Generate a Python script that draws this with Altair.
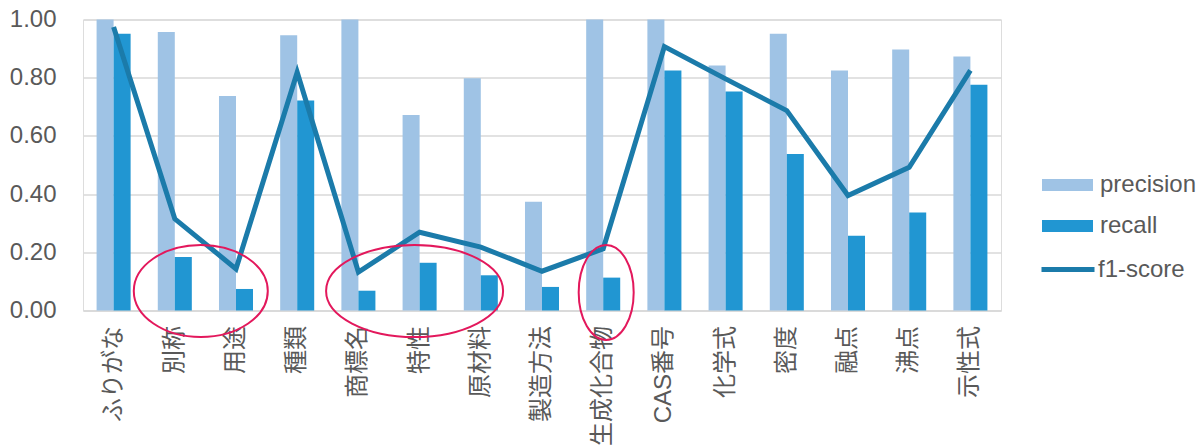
import altair as alt
import pandas as pd

FONT = "Liberation Sans, Arial, Noto Sans CJK JP"

categories = ["ふりがな", "別称", "用途", "種類", "商標名", "特性", "原材料", "製造方法",
              "生成化合物", "CAS番号", "化学式", "密度", "融点", "沸点", "示性式"]
precision = [1.00, 0.957, 0.737, 0.946, 1.00, 0.672, 0.798, 0.374, 1.00, 1.00,
             0.842, 0.951, 0.825, 0.897, 0.873]
recall = [0.951, 0.184, 0.074, 0.722, 0.068, 0.164, 0.121, 0.081, 0.113, 0.825,
          0.753, 0.538, 0.257, 0.337, 0.776]
f1_score = [0.974, 0.315, 0.143, 0.819, 0.132, 0.269, 0.218, 0.135, 0.212, 0.907,
            0.796, 0.687, 0.395, 0.492, 0.825]
metrics = ["precision", "recall"]
y_ticks = [0.0, 0.2, 0.4, 0.6, 0.8, 1.0]

# annotation ellipses (anchor category and level)
ann_cats = ["別称", "特性", "生成化合物"]
ann_y = [0.067, 0.067, 0.062]

metric_colors = ["#9FC3E5", "#2196D2"]
line_color = "#1B7BAA"
red = "#E3185C"
grey = "#595959"
grid = "#D9D9D9"

bars_df = pd.DataFrame({
    "category": categories * 2,
    "metric": ["precision"] * len(categories) + ["recall"] * len(categories),
    "value": precision + recall,
})
line_df = pd.DataFrame({"category": categories, "series": ["f1-score"] * len(categories),
                        "value": f1_score})
ann_df = pd.DataFrame({"category": ann_cats, "value": ann_y})

x_scale = alt.Scale(domain=categories, paddingInner=0.444, paddingOuter=0.222)
x_axis = alt.Axis(title=None, labelAngle=270, labelFontSize=24, labelFont=FONT,
                  labelColor=grey, ticks=False, labelPadding=15, domainColor=grid,
                  domainWidth=1.5, grid=False)
y_scale = alt.Scale(domain=[0, 1], nice=False)
y_axis = alt.Axis(title=None, values=y_ticks, format=".2f", labelFontSize=24, labelFont=FONT,
                  labelColor=grey, ticks=False, labelPadding=27, domain=False,
                  gridColor=grid, gridWidth=1.5)


def xenc():
    return alt.X("category:N", scale=x_scale, axis=x_axis, sort=categories)


def yenc():
    return alt.Y("value:Q", scale=y_scale, axis=y_axis)


bars = alt.Chart(bars_df).mark_bar().encode(
    x=xenc(),
    xOffset=alt.XOffset("metric:N", sort=metrics, scale=alt.Scale(paddingInner=0, paddingOuter=0)),
    y=yenc(),
    color=alt.Color("metric:N", scale=alt.Scale(domain=metrics, range=metric_colors),
                    legend=alt.Legend(title=None, orient="none", legendX=959, legendY=140,
                                      symbolType="M-1,-0.24H1V0.24H-1Z", symbolSize=2601,
                                      symbolStrokeWidth=0, labelFontSize=24, labelFont=FONT,
                                      labelColor=grey, rowPadding=3, labelOffset=7, padding=0)),
)

line = alt.Chart(line_df).mark_line(strokeWidth=5).encode(
    x=xenc(),
    y=yenc(),
    stroke=alt.Stroke("series:N", scale=alt.Scale(domain=["f1-score"], range=[line_color]),
                      legend=alt.Legend(title=None, orient="none", legendX=956, legendY=221,
                                        symbolType="stroke", symbolSize=2809,
                                        symbolStrokeWidth=5, labelFontSize=24, labelFont=FONT,
                                        labelColor=grey, labelOffset=1, padding=0)),
)

ell_paths = [
    "M-1,0A1,0.687,0,1,0,1,0A1,0.687,0,1,0,-1,0Z",
    "M-1,0A1,0.52,0,1,0,1,0A1,0.52,0,1,0,-1,0Z",
    "M-0.579,0A0.579,1,0,1,0,0.579,0A0.579,1,0,1,0,-0.579,0Z",
]
ell_sizes = [17956, 31329, 9025]
ell_dx = [43, 12, 20]

layers = [bars, line]
for i in range(len(ann_cats)):
    layers.append(
        alt.Chart(ann_df.iloc[[i]]).mark_point(
            shape=ell_paths[i], size=ell_sizes[i], filled=False, color=red,
            strokeWidth=2, opacity=1
        ).encode(x=xenc(), y=yenc(), xOffset=alt.value(ell_dx[i]))
    )

chart = alt.layer(*layers).properties(
    width=918, height=291,
    autosize=alt.AutoSizeParams(type="none"),
    padding={"left": 83, "top": 19.5, "right": 195, "bottom": 134.5},
).configure_view(stroke=None).configure(background="white")

chart.save("out.html", embed_options={"renderer": "svg", "actions": False})
